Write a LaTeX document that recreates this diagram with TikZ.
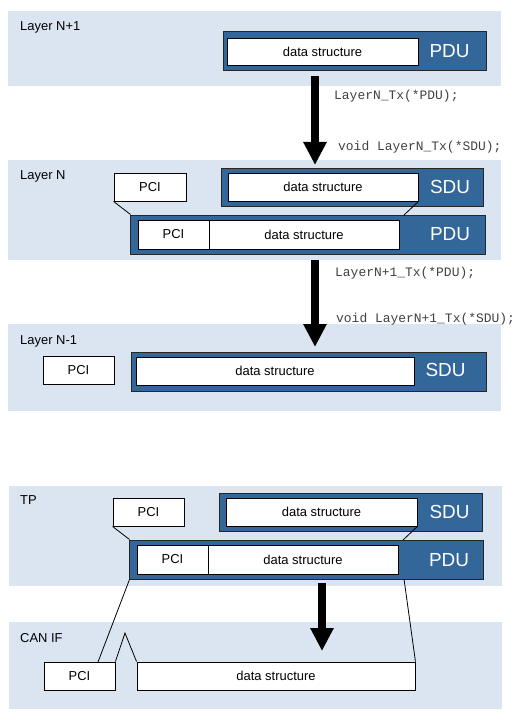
\documentclass[tikz,border=0pt]{standalone}
\usepackage{fontspec}
\setmainfont{Liberation Sans}
\setmonofont{Liberation Mono}
\usetikzlibrary{arrows.meta,calc,positioning}
\definecolor{bandblue}{RGB}{219,229,241}
\definecolor{pdublue}{RGB}{51,102,153}
\tikzset{
	layer/.style={fill=bandblue,inner sep=0,minimum height=#1},
	layername/.style={anchor=base west,inner sep=0,font=\fontsize{13}{15}\selectfont},
	outbox/.style={draw=black!85,fill=pdublue,line width=1bp,inner sep=0,minimum height=#1},
	whitebox/.style={draw=black,fill=white,line width=.9bp,inner sep=0,minimum height=28bp,font=\fontsize{13}{15}\selectfont},
	unitlabel/.style={text=white,inner sep=0,font=\fontsize{19}{21}\selectfont},
	calltext/.style={anchor=base west,inner sep=0,font=\ttfamily\fontsize{13}{15}\selectfont,text=black!75},
	thinedge/.style={color=black, line width=.8bp},
	bigarrow/.style={-{Triangle[width=22bp,length=23bp]},line width=8bp}
}
\begin{document}
\begin{tikzpicture}[x=1bp,y=-1bp]
				\useasboundingbox (0,0) rectangle (519,722);
				
				%%%% Layer N+1
				\node[layer=75bp,minimum width=493bp] (bandA) at (254.5,48.5) {};
				\node[layername] (nameA) at (20,31) {Layer N+1};
				\node[outbox=39bp,minimum width=263bp] (pdu1) at (354.5,51.5) {};
				\node[whitebox,minimum width=191bp,minimum height=27bp] (ds1) at (322.5,51.5) {data structure};
				\node[unitlabel] (pdu1l) at (449.5,51.5) {PDU};
				
				%%%% Layer N
				\node[layer=100bp,minimum width=493bp] (bandB) at (254.5,210) {};
				\node[layername] (nameB) at (20,179) {Layer N};
				\node[whitebox,minimum width=72bp] (pci2a) at (150,187) {PCI};
				\node[outbox=38bp,minimum width=262bp] (sdu2) at (352,187) {};
				\node[whitebox,minimum width=190bp] (ds2a) at (323,187) {data structure};
				\node[unitlabel] (sdu2l) at (450,187) {SDU};
				\node[outbox=39bp,minimum width=354bp] (pdu2) at (308,234.5) {};
				\node[whitebox,minimum width=71bp,minimum height=29bp] (pci2b) at (173.5,234.5) {PCI};
				\node[whitebox,minimum width=190bp,minimum height=29bp] (ds2b) at (304,234.5) {data structure};
				\node[unitlabel] (pdu2l) at (450,234.5) {PDU};
				\coordinate (cut2) at (404,215);
				\draw[thinedge] (pci2a.south west) -- (pdu2.north west);
				\draw[thinedge] (ds2a.south east) -- (cut2);
				
				%%%% Layer N-1
				\node[layer=87bp,minimum width=493bp] (bandC) at (254.5,367.5) {};
				\node[layername] (nameC) at (20,344) {Layer N-1};
				\node[whitebox,minimum width=71bp] (pci3) at (78.5,370) {PCI};
				\node[outbox=39bp,minimum width=354bp] (sdu3) at (309,371.5) {};
				\node[whitebox,minimum width=278bp] (ds3) at (275,371) {data structure};
				\node[unitlabel] (sdu3l) at (445.5,370) {SDU};
				
				%%%% calls between the layers
				\coordinate (a1s) at (315,76);
				\coordinate (a1e) at (315,165);
				\coordinate (a2s) at (315,260);
				\coordinate (a2e) at (315,347);
				\draw[bigarrow] (a1s) -- (a1e);
				\draw[bigarrow] (a2s) -- (a2e);
				\node[calltext] (callA) at (334,100) {LayerN\_Tx(*PDU);};
				\node[calltext] (callB) at (338,150) {void LayerN\_Tx(*SDU);};
				\node[calltext] (callC) at (335,276) {LayerN+1\_Tx(*PDU);};
				\node[calltext] (callD) at (336,322) {void LayerN+1\_Tx(*SDU);};
				
				%%%% TP
				\node[layer=100bp,minimum width=493bp] (bandD) at (255.5,536) {};
				\node[layername] (nameD) at (20,504) {TP};
				\node[whitebox,minimum width=71bp] (pci4a) at (148.5,512) {PCI};
				\node[outbox=38bp,minimum width=263bp] (sdu4) at (350.5,512) {};
				\node[whitebox,minimum width=191bp] (ds4a) at (321.5,512) {data structure};
				\node[unitlabel] (sdu4l) at (449.5,512) {SDU};
				\node[outbox=39bp,minimum width=353bp] (pdu4) at (306.5,559.5) {};
				\node[whitebox,minimum width=71bp,minimum height=29bp] (pci4b) at (172.5,559.5) {PCI};
				\node[whitebox,minimum width=190bp,minimum height=29bp] (ds4b) at (303,559.5) {data structure};
				\node[unitlabel] (pdu4l) at (449,560.5) {PDU};
				
				%%%% CAN IF
				\node[layer=87bp,minimum width=493bp] (bandE) at (255.5,665.5) {};
				\node[layername] (nameE) at (20,642) {CAN IF};
				\node[whitebox,minimum width=71bp] (pci5) at (79.5,676) {PCI};
				\node[whitebox,minimum width=278bp] (ds5) at (276,676) {data structure};
				
				\coordinate (cut4a) at (403,540);
				\coordinate (cut4b) at (404,579);
				\coordinate (cut5) at (98,662);
				\coordinate (peak5) at (125,633);
				\coordinate (a3s) at (322,583);
				\coordinate (a3e) at (322,651);
				\draw[thinedge] (pci4a.south west) -- (pdu4.north west);
				\draw[thinedge] (ds4a.south east) -- (cut4a);
				\draw[thinedge] (pdu4.south west) -- (cut5);
				\draw[thinedge] (cut4b) -- (ds5.north east);
				\draw[thinedge] (pci5.north east) -- (peak5) -- (ds5.north west);
				\draw[bigarrow] (a3s) -- (a3e);
				
\end{tikzpicture}
\end{document}
